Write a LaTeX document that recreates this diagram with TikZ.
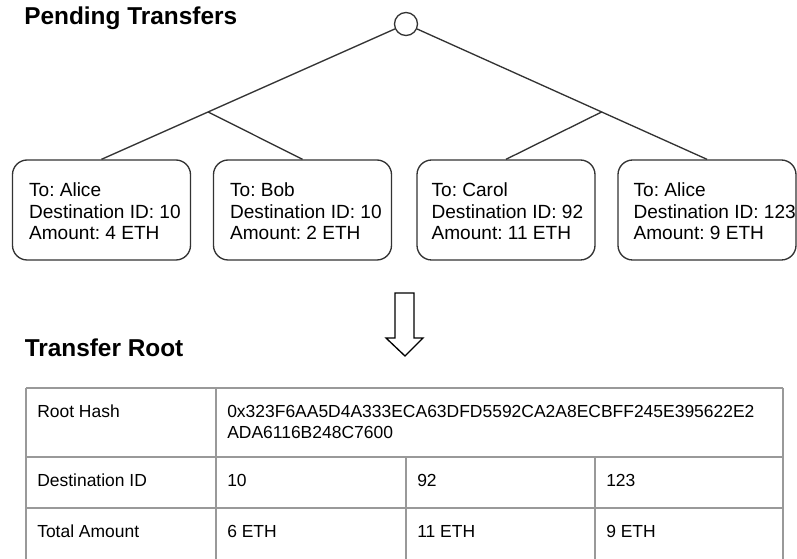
\documentclass[tikz,border=0pt]{standalone}
\usepackage{fontspec}
\setmainfont{Liberation Sans}
\usetikzlibrary{calc}

\begin{document}
\frenchspacing
\begin{tikzpicture}[x=0.75pt,y=-0.75pt,
    leaf/.style={draw=black!80, line width=1pt, rounded corners=11pt,
        minimum width=133.5pt, minimum height=75pt, inner sep=0pt},
    leaftext/.style={anchor=west, inner sep=0pt, align=left, font=\fontsize{14.3}{16.1}\selectfont},
    cell/.style={anchor=base west, inner sep=0pt, font=\fontsize{13.1}{15.75}\selectfont},
    heading/.style={anchor=base west, inner sep=0pt, font=\fontsize{18.3}{22}\selectfont\bfseries},
    grid/.style={draw=black!40, line width=1.1pt}]
\useasboundingbox (0,0) rectangle (797,559);

    % headings
    \node[heading] (pending) at (24,25) {Pending Transfers};
    \node[heading] (troot) at (24.5,357) {Transfer Root};

    % tree of pending transfers
    \node[draw=black!80, circle, line width=1pt, minimum size=17.25pt, inner sep=0pt] (root) at (406,24) {};
    \node[leaf] (b1) at (101.5,210) {};
    \node[leaf] (b2) at (302.5,210) {};
    \node[leaf] (b3) at (506,210) {};
    \node[leaf] (b4) at (707,210) {};
    \node[leaftext] (t1) at ($(b1.west)+(17,1.5)$) {To: Alice\\Destination ID: 10\\Amount: 4 ETH};
    \node[leaftext] (t2) at ($(b2.west)+(17,1.5)$) {To: Bob\\Destination ID: 10\\Amount: 2 ETH};
    \node[leaftext] (t3) at ($(b3.west)+(15,1.5)$) {To: Carol\\Destination ID: 92\\Amount: 11 ETH};
    \node[leaftext] (t4) at ($(b4.west)+(16,1.5)$) {To: Alice\\Destination ID: 123\\Amount: 9 ETH};
    \coordinate (left) at ($(root)!0.65!(b1.north)$);
    \coordinate (right) at ($(root)!0.65!(b4.north)$);
    \draw[black!80, line width=1pt] (root) -- (b1.north);
    \draw[black!80, line width=1pt] (left) -- (b2.north);
    \draw[black!80, line width=1pt] (root) -- (b4.north);
    \draw[black!80, line width=1pt] (right) -- (b3.north);

    % hollow arrow
    \draw[line width=1pt, line join=miter] (395,293) -- (414,293) -- (414,338) -- (423,338)
        -- (405,356) -- (386,338) -- (395,338) -- cycle;

    % table
    \foreach \y in {388,457,508} \draw[grid] (26,\y) -- (783,\y);
    \foreach \x in {26,216,783} \draw[grid] (\x,388) -- (\x,565);
    \foreach \x in {406,595} \draw[grid] (\x,457) -- (\x,565);

    \node[cell] (hashlbl) at (37,418) {Root Hash};
    \node[cell, align=left] (hash) at (227,439) {0x323F6AA5D4A333ECA63DFD5592CA2A8ECBFF245E395622E2\\ADA6116B248C7600};
    \node[cell] (destlbl) at (37,487) {Destination ID};
    \node[cell] (d1) at (227,487) {10};
    \node[cell] (d2) at (417,487) {92};
    \node[cell] (d3) at (606,487) {123};
    \node[cell] (amtlbl) at (37,538) {Total Amount};
    \node[cell] (a1) at (227,538) {6 ETH};
    \node[cell] (a2) at (417,538) {11 ETH};
    \node[cell] (a3) at (606,538) {9 ETH};
\end{tikzpicture}
\end{document}
